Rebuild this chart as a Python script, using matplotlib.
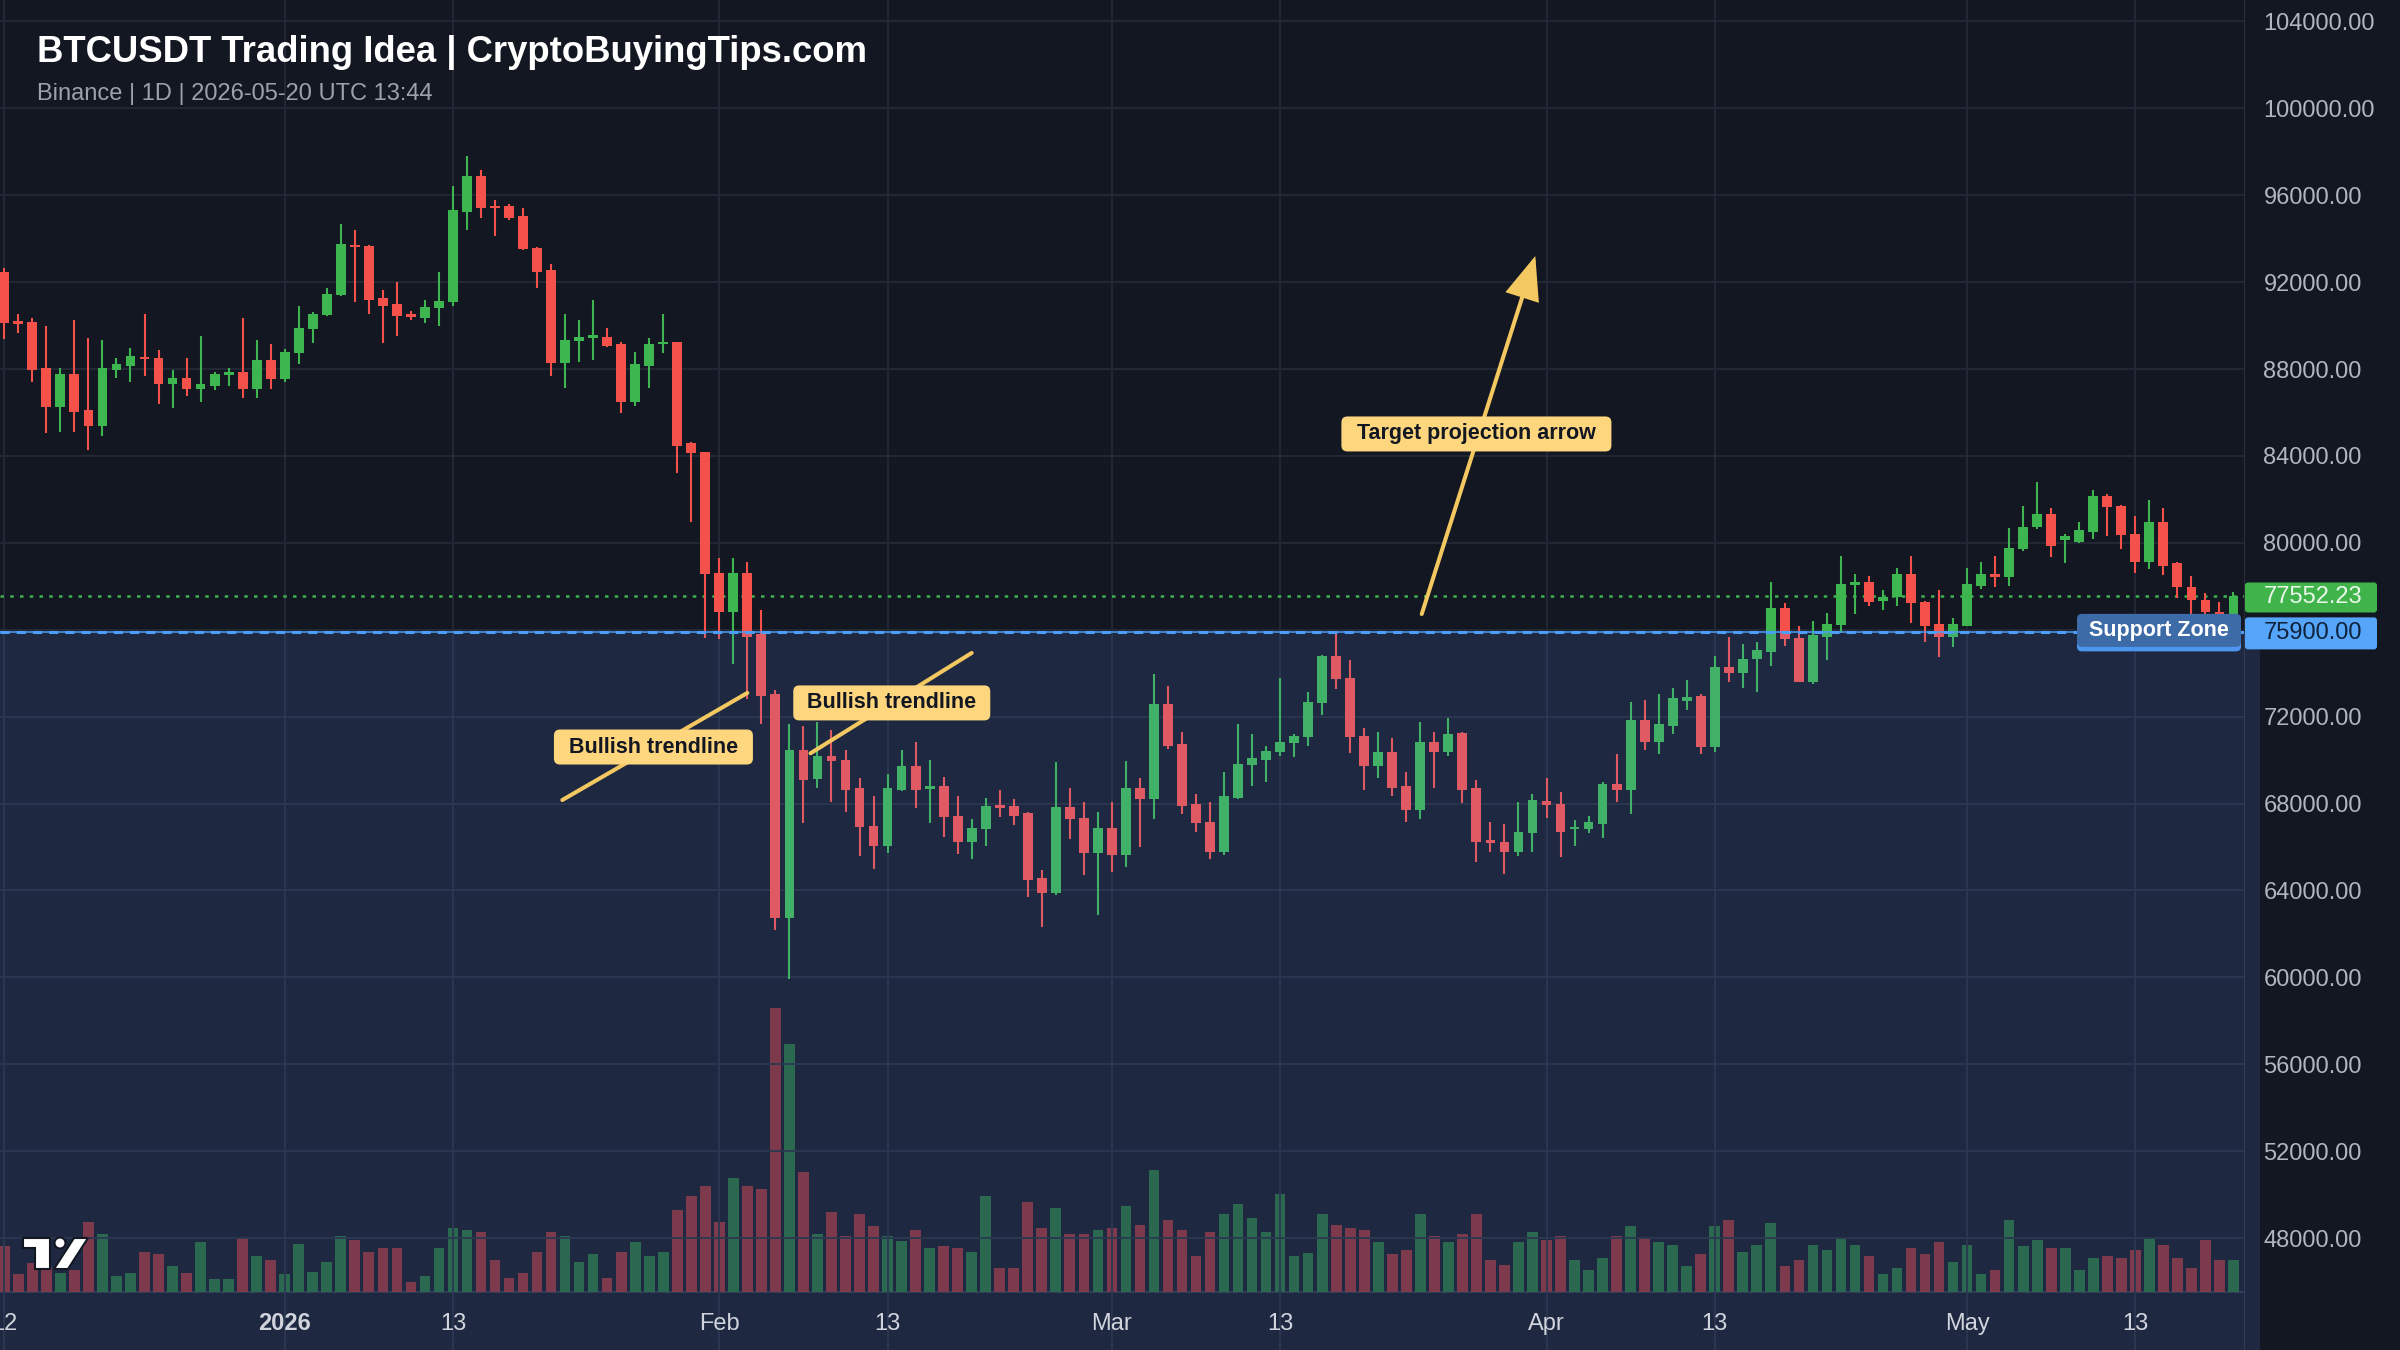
import matplotlib
matplotlib.use("Agg")
import matplotlib.pyplot as plt
import matplotlib.transforms as mtransforms
from matplotlib.patches import FancyBboxPatch, Rectangle, Polygon, Ellipse, FancyArrowPatch
import numpy as np
import pandas as pd

plt.rcParams['font.family'] = ['Liberation Sans', 'DejaVu Sans']

# daily BTCUSDT candles (first candle = start_date)
start_date = "2025-12-12"
opens = [
    92450, 90180, 90180, 88030, 86240, 87760, 86110, 85390, 87950, 88140,
    88570, 88490, 87310, 87570, 87060, 87230, 87720, 87850, 87060, 88420,
    87530, 88720, 89830, 90490, 91410, 93710, 93660, 91250, 90990, 90530,
    90330, 90790, 91070, 95240, 96880, 95500, 95520, 95040, 93590, 92560,
    88260, 89290, 89430, 89490, 89150, 86500, 88140, 89140, 89230, 84580,
    84170, 78630, 76820, 78630, 75790, 73040, 62750, 70450, 69110, 70170,
    70000, 68720, 66960, 66060, 68600, 69740, 68670, 68800, 67440, 66250,
    66830, 67900, 67900, 67570, 64580, 63870, 67860, 67320, 65710, 66860,
    65620, 68700, 68190, 72570, 70740, 67980, 67130, 65780, 68240, 69760,
    70000, 70390, 70770, 71050, 72610, 74790, 73790, 71110, 69740, 70360,
    68810, 67700, 70820, 70390, 71230, 68700, 66320, 66210, 65780, 66630,
    68130, 67980, 66810, 66810, 67060, 68900, 68620, 71840, 70850, 71580,
    72700, 72960, 70590, 74300, 73990, 74640, 74990, 76980, 75600, 73610,
    75650, 76200, 78060, 78180, 77340, 77520, 78550, 77290, 76260, 75680,
    76190, 78030, 78550, 78440, 79700, 80710, 81310, 80130, 80050, 80510,
    82150, 81690, 80410, 79130, 80940, 79060, 77980, 77370, 76830, 76680,
]
highs = [
    92630, 90530, 90330, 89980, 88030, 90260, 89410, 89340, 88490, 88950,
    90530, 88880, 87950, 88490, 89520, 87880, 88030, 90330, 89340, 89150,
    88910, 90900, 90640, 91740, 94680, 94400, 93700, 91640, 91990, 90690,
    91180, 92450, 96420, 97820, 97160, 95780, 95600, 95400, 93620, 92830,
    90530, 90260, 91180, 89870, 89260, 88770, 89410, 90530, 89260, 84630,
    84200, 79320, 79320, 79110, 76910, 73210, 71650, 71560, 71760, 71380,
    70450, 69160, 68340, 69340, 70450, 70810, 70000, 69210, 68360, 67270,
    68260, 68640, 68190, 67600, 64940, 69930, 68700, 68050, 67590, 68050,
    69970, 69160, 73960, 73410, 71280, 68420, 68090, 69440, 71660, 71200,
    70650, 73760, 71200, 73120, 74850, 75830, 74610, 71460, 71280, 71000,
    69440, 71740, 71280, 71950, 71310, 69080, 67130, 67060, 68050, 68440,
    69160, 68520, 67240, 67430, 69010, 70280, 72690, 72770, 73040, 73300,
    73690, 73030, 74790, 75680, 75340, 75420, 78210, 77250, 76170, 76420,
    76790, 79390, 78560, 78470, 77830, 78860, 79390, 77340, 77830, 76520,
    78860, 79100, 79390, 80700, 81690, 82810, 81590, 80390, 80970, 82430,
    82250, 81720, 81230, 81970, 81590, 79130, 78470, 77710, 77260, 77750,
]
lows = [
    89370, 89640, 87420, 85040, 85120, 85120, 84270, 84930, 87570, 87420,
    87690, 86390, 86220, 86770, 86500, 87030, 87220, 86680, 86680, 87060,
    87420, 88230, 89180, 90440, 91360, 91100, 90530, 89180, 89520, 90260,
    90100, 89980, 90920, 94400, 94970, 94120, 94860, 93480, 91740, 87680,
    87140, 88340, 88420, 89000, 85960, 86300, 87140, 88720, 83190, 80970,
    75620, 75590, 74440, 72800, 71680, 62180, 59900, 67080, 68720, 68090,
    67620, 65600, 64970, 65730, 68560, 67810, 67080, 66450, 65680, 65430,
    66060, 67370, 66990, 63690, 62300, 63790, 66350, 64710, 62870, 64860,
    65060, 65980, 67270, 70490, 67520, 66700, 65430, 65620, 68190, 68820,
    69010, 70200, 70130, 70660, 72070, 73260, 70310, 68620, 69190, 68360,
    67160, 67270, 68730, 70200, 68010, 65320, 65780, 64760, 65600, 65780,
    67320, 65520, 66040, 66630, 66400, 68090, 67520, 70460, 70280, 71200,
    72300, 70280, 70360, 73610, 73300, 73150, 74330, 75260, 73580, 73500,
    74610, 75850, 76720, 77110, 76910, 77110, 76290, 75450, 74730, 75190,
    76150, 77870, 77950, 78030, 79620, 80640, 79330, 79060, 79980, 80180,
    80330, 79700, 78630, 78780, 78520, 77440, 76450, 76680, 76370, 76450,
]
closes = [
    90100, 90070, 87950, 86240, 87760, 86040, 85390, 88030, 88230, 88600,
    88450, 87310, 87570, 87060, 87300, 87760, 87850, 87060, 88420, 87530,
    88800, 89870, 90530, 91440, 93740, 93600, 91180, 90920, 90460, 90380,
    90870, 91150, 95320, 96880, 95430, 95400, 94940, 93510, 92480, 88260,
    89340, 89490, 89520, 89070, 86500, 88220, 89150, 89240, 84470, 84140,
    78580, 76820, 78630, 75670, 72960, 62750, 70450, 69100, 70170, 69950,
    68640, 66910, 66060, 68720, 69740, 68640, 68800, 67370, 66250, 66880,
    67900, 67810, 67440, 64490, 63870, 67860, 67270, 65710, 66860, 65620,
    68700, 68190, 72570, 70660, 67900, 67090, 65780, 68350, 69800, 70080,
    70430, 70820, 71120, 72660, 74790, 73720, 71050, 69740, 70360, 68730,
    67700, 70820, 70390, 71200, 68620, 66240, 66170, 65780, 66670, 68160,
    67930, 66700, 66920, 67130, 68900, 68620, 71840, 70850, 71660, 72840,
    72920, 70590, 74300, 73990, 74650, 75070, 76980, 75560, 73610, 75760,
    76260, 78100, 78180, 77290, 77520, 78550, 77210, 76190, 75680, 76260,
    78100, 78550, 78440, 79750, 80740, 81310, 79850, 80330, 80590, 82150,
    81660, 80360, 79130, 80940, 78930, 77950, 77370, 76830, 76680, 77552.23,
]
# volume in thousand BTC
volumes = [
    9.3, 3.6, 5.8, 5.0, 3.8, 4.4, 14.1, 11.6, 3.3, 3.9,
    8.1, 7.6, 5.3, 3.9, 10.1, 2.7, 2.7, 10.9, 7.2, 6.4,
    3.6, 9.6, 4.1, 6.1, 11.2, 10.5, 8.1, 8.9, 8.9, 2.1,
    3.3, 8.9, 12.9, 12.5, 12.1, 6.4, 2.9, 3.9, 8.1, 12.1,
    11.2, 6.1, 7.6, 2.9, 8.1, 10.1, 7.2, 8.1, 16.5, 19.2,
    21.3, 14.1, 22.9, 21.2, 20.7, 56.9, 49.6, 24.1, 11.6, 16.1,
    11.2, 15.6, 13.2, 11.2, 10.2, 12.5, 8.9, 9.3, 8.9, 8.1,
    19.3, 4.9, 4.9, 18.1, 12.9, 16.9, 11.6, 11.6, 12.5, 12.9,
    17.2, 13.5, 24.4, 14.4, 12.4, 7.2, 12.1, 15.6, 17.6, 14.9,
    12.1, 19.6, 7.3, 7.9, 15.6, 13.5, 12.9, 12.4, 10.1, 7.6,
    8.4, 15.6, 11.2, 10.1, 11.6, 15.6, 6.4, 5.5, 10.1, 12.1,
    10.4, 11.2, 6.5, 4.4, 6.9, 11.2, 13.2, 10.9, 10.1, 9.5,
    5.3, 7.6, 13.2, 14.4, 8.1, 9.5, 13.9, 5.3, 6.4, 9.5,
    8.4, 10.9, 9.5, 7.2, 3.6, 4.9, 8.9, 7.6, 10.1, 6.1,
    9.5, 3.6, 4.4, 14.5, 9.3, 10.4, 8.9, 8.9, 4.4, 6.9,
    7.2, 6.9, 8.4, 10.9, 9.5, 6.9, 4.9, 10.4, 6.4, 6.4,
]

tick_dates = ["2025-12-12", "2026-01-01", "2026-01-13", "2026-02-01", "2026-02-13",
              "2026-03-01", "2026-03-13", "2026-04-01", "2026-04-13", "2026-05-01", "2026-05-13"]
tick_labels = ["12", "2026", "13", "Feb", "13", "Mar", "13", "Apr", "13", "May", "13"]
price_ticks = list(range(48000, 104001, 4000))

support_level = 75900.00
last_price = closes[-1]

# drawings (x in candle index, y in price)
trend_x = [[39.8, 53.0], [57.5, 69.0]]
trend_y = [[68160, 73090], [70310, 74930]]
arrow_x = [101.1, 109.2]
arrow_y = [76720, 93200]
note_texts = ["Bullish trendline", "Bullish trendline", "Target projection arrow"]
note_x = [46.3, 63.3, 105.0]
note_y = [70600, 72630, 85010]
note_w = [199, 197, 270]

BG = "#131722"
GRID = "#232936"
UP = "#3db650"
DOWN = "#f5514b"
UP_VOL = "#216234"
DOWN_VOL = "#822b31"
ZONE = "#6197fe"
SUPPORT = "#4c9ef8"
YELLOW_LINE = "#f4c861"
YELLOW_BOX = "#fdd67e"
W, H = 2400, 1350


def pixel_box(ax, x, y, trans, w, h, fc, dx=0, dy=0, z=7, r=6):
    # box of w x h pixels centred dx, dy pixels away from the point (x, y)
    tr = mtransforms.Affine2D() + mtransforms.ScaledTranslation(x, y, trans)
    box = FancyBboxPatch((dx - w / 2, dy - h / 2), w, h,
                         boxstyle=f"round,pad=0,rounding_size={r}",
                         transform=tr, fc=fc, ec="none", zorder=z, clip_on=False)
    ax.add_patch(box)


def pixel_text(fig, ax, x, y, trans, s, dx=0, dy=0, **kw):
    tr = mtransforms.offset_copy(trans, fig=fig, x=dx, y=dy, units="dots")
    ax.text(x, y, s, transform=tr, clip_on=False, **kw)


def fxy(x, y):
    return (x / W, 1 - y / H)


def main():
    n = len(closes)
    dates = pd.date_range(start_date, periods=n, freq="D")
    idx = np.arange(n)
    o, h, l, c = (np.array(v, dtype=float) for v in (opens, highs, lows, closes))
    up = c >= o
    tick_pos = [dates.get_loc(pd.Timestamp(d)) for d in tick_dates]

    fig = plt.figure(figsize=(24, 13.5), dpi=100, facecolor=BG)
    rect = [0, 0, 2244 / W, 1]
    ax_vol = fig.add_axes(rect)
    ax = fig.add_axes(rect, sharex=ax_vol)
    ax_vol.set_facecolor(BG)
    ax.patch.set_visible(False)

    # volume pane
    ax_vol.bar(idx, volumes, width=0.76, color=np.where(up, UP_VOL, DOWN_VOL), zorder=2)
    ax_vol.axhline(0, color="#2b3447", lw=1.2, zorder=1)
    ax_vol.set_ylim(-11.6, 258.4)
    ax_vol.set_yticks([])
    ax_vol.tick_params(bottom=False, labelbottom=False)
    for s in ax_vol.spines.values():
        s.set_visible(False)

    # candles
    body_lo = np.minimum(o, c)
    body_h = np.maximum(np.abs(c - o), 120)
    colors = np.where(up, UP, DOWN)
    ax.vlines(idx, l, h, colors=colors, lw=1.5, zorder=3)
    ax.bar(idx, body_h, bottom=body_lo, width=0.7, color=colors, zorder=3.1)

    ax.set_xlim(-0.307, 159.75)
    ylo, yhi = 42845, 104985
    ax.set_ylim(ylo, yhi)

    # grid and axes
    ax.set_xticks(tick_pos)
    ax.set_yticks(price_ticks)
    ax.set_yticklabels([f"{p:.2f}" for p in price_ticks])
    ax.yaxis.tick_right()
    ax.tick_params(axis="y", length=0, pad=14, labelsize=17, labelcolor="#b2b5be")
    ax.tick_params(axis="x", length=0, labelbottom=False)
    ax.grid(True, color=GRID, lw=1.3)
    ax.set_axisbelow(True)
    for name, s in ax.spines.items():
        s.set_visible(name == "right")
    ax.spines["right"].set_color("#2a2e39")

    # date labels sit inside the bottom strip; the first one is cut by the left edge
    for pos, lab in zip(tick_pos, tick_labels):
        ax.text(pos, 20 / H, lab, transform=ax.get_xaxis_transform(), ha="center",
                va="baseline", fontsize=17, color="#d1d4dc",
                fontweight="bold" if lab == "2026" else "normal", zorder=9)

    # support zone + levels
    blend = mtransforms.blended_transform_factory(ax.transAxes, ax.transData)
    ax.add_patch(Rectangle((0, ylo), 1.0071, support_level - ylo, transform=blend,
                           color=ZONE, alpha=0.14, lw=0, zorder=4, clip_on=False))
    ax.axhline(last_price, color="#3fb04f", lw=1.8, dashes=(1.4, 2.5), zorder=2)
    ax.axhline(support_level, color=SUPPORT, lw=1.1, zorder=5)
    ax.axhline(support_level, color=SUPPORT, lw=2.2, dashes=(3, 2.3), zorder=5)

    # trendlines and target arrow
    for xs, ys in zip(trend_x, trend_y):
        ax.plot(xs, ys, color=YELLOW_LINE, lw=2.9, solid_capstyle="round", zorder=6)
    arrow = FancyArrowPatch((arrow_x[0], arrow_y[0]), (arrow_x[1], arrow_y[1]),
                            arrowstyle="-|>,head_length=26,head_width=10.5",
                            mutation_scale=1, color=YELLOW_LINE, lw=2.9,
                            shrinkA=0, shrinkB=0, capstyle="round", joinstyle="miter",
                            zorder=6)
    ax.add_patch(arrow)

    for s, x, y, w in zip(note_texts, note_x, note_y, note_w):
        pixel_box(ax, x, y, ax.transData, w, 35, YELLOW_BOX)
        ax.text(x, y, s, ha="center", va="center", fontsize=15.5, fontweight="bold",
                color="#131722", zorder=8)

    # support zone tag
    pixel_box(ax, 1.0, support_level, blend, 164, 33, "#4d96f0", dx=-85, dy=-3, r=5)
    pixel_box(ax, 1.0, support_level, blend, 164, 33, "#3d6ba8", dx=-85, dy=1.5, r=5, z=7.5)
    pixel_text(fig, ax, 1.0, support_level, blend, "Support Zone", dx=-85, dy=1.5,
               ha="center", va="center", fontsize=15.5, fontweight="bold",
               color="white", zorder=8)

    # price tags on the axis
    pixel_box(ax, 1.0, last_price, blend, 132, 30, "#40b44b", dx=67, dy=-1.5, r=3)
    pixel_text(fig, ax, 1.0, last_price, blend, f"{last_price:.2f}", dx=20, dy=-1.5,
               ha="left", va="center", fontsize=17, color="#e9f7ea", zorder=8)
    pixel_box(ax, 1.0, support_level, blend, 132, 32, "#55a5fa", dx=67, dy=-1.5, r=3)
    pixel_text(fig, ax, 1.0, support_level, blend, f"{support_level:.2f}", dx=20, dy=-1.5,
               ha="left", va="center", fontsize=17, color="#10223a", zorder=8)

    # title
    fig.text(*fxy(37, 62), "BTCUSDT Trading Idea | CryptoBuyingTips.com", fontsize=26.3,
             fontweight="bold", color="white", va="baseline")
    fig.text(*fxy(37, 100), "Binance | 1D | 2026-05-20 UTC 13:44", fontsize=17,
             color="#9ea1aa", va="baseline")

    # logo in the lower left corner
    logo = dict(fc="white", ec=BG, lw=1.5, transform=fig.transFigure, zorder=10)
    fig.patches.append(Polygon([fxy(23, 1238), fxy(50, 1238), fxy(50, 1269), fxy(35, 1269),
                                fxy(35, 1248), fxy(23, 1248)], **logo))
    fig.patches.append(Ellipse(fxy(60, 1243), 11 / W, 11 / H, **logo))
    fig.patches.append(Polygon([fxy(74, 1238), fxy(88, 1238), fxy(68, 1269), fxy(54, 1269)], **logo))

    fig.savefig("out.png", dpi=100, facecolor=BG)
    plt.close(fig)


if __name__ == "__main__":
    main()
